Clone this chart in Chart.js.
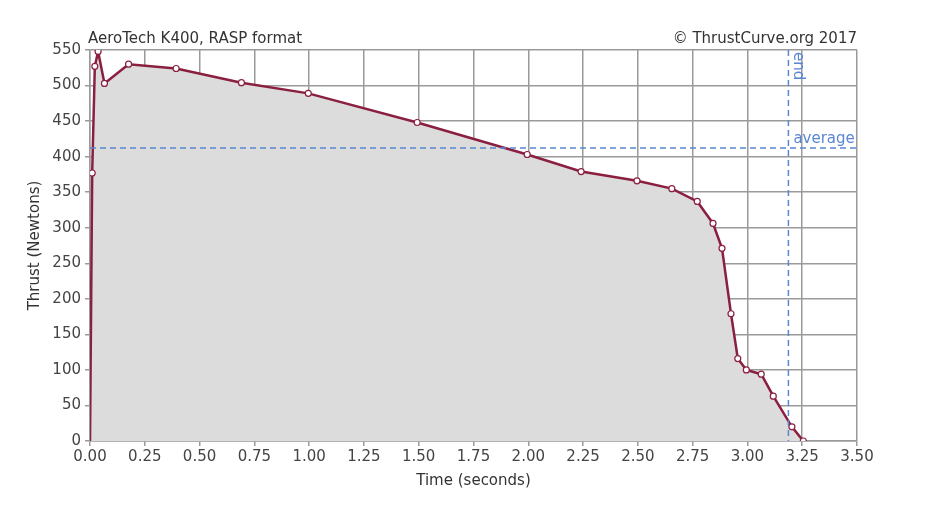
<!DOCTYPE html>
<html>
<head>
<meta charset="utf-8">
<script src="https://cdn.jsdelivr.net/npm/chart.js@4"></script>
<style>
  html, body { margin: 0; padding: 0; background: #fff; }
  #wrap { width: 930px; height: 512px; }
</style>
</head>
<body>
<div id="wrap"><canvas id="thrustChart" width="930" height="512"></canvas></div>
<script>
// ---- data ----
const timeSec = [0, 0.01, 0.022, 0.037, 0.066, 0.176, 0.393, 0.691, 0.996, 1.493, 1.995, 2.241, 2.496, 2.655, 2.771, 2.843, 2.884, 2.925, 2.956, 2.995, 3.063, 3.118, 3.203, 3.255];
const thrustN = [0, 377, 527, 548, 503, 530, 524, 504, 489, 448, 403, 379, 366, 355, 337, 306, 271, 179, 116, 100, 94, 63, 20, 0];
const averageThrust = 412;
const burnEnd = 3.187;
const xTicks = [0, 0.25, 0.5, 0.75, 1, 1.25, 1.5, 1.75, 2, 2.25, 2.5, 2.75, 3, 3.25, 3.5];
const yTicks = [0, 50, 100, 150, 200, 250, 300, 350, 400, 450, 500, 550];
const chartTitle = "AeroTech K400, RASP format";
const chartCredit = "\u00A9 ThrustCurve.org 2017";

const FONT = "'DejaVu Sans', sans-serif";
const BLUE = "#5a86d4";

// average / end reference lines + header texts
const refLines = {
    id: "refLines",
    afterDatasetsDraw(chart) {
        const { ctx, chartArea: a, scales } = chart;
        const yAvg = scales.y.getPixelForValue(averageThrust);
        const xEnd = scales.x.getPixelForValue(burnEnd);
        ctx.save();
        ctx.strokeStyle = BLUE;
        ctx.lineWidth = 1.5;
        ctx.setLineDash([6, 4]);
        ctx.beginPath();
        ctx.moveTo(a.left, yAvg);
        ctx.lineTo(a.right, yAvg);
        ctx.moveTo(xEnd, a.top);
        ctx.lineTo(xEnd, a.bottom);
        ctx.stroke();
        ctx.setLineDash([]);
        ctx.fillStyle = BLUE;
        ctx.font = "15px " + FONT;
        ctx.textAlign = "left";
        ctx.textBaseline = "bottom";
        ctx.fillText("average", xEnd + 5, yAvg - 1);
        ctx.translate(xEnd + 2, a.top + 2);
        ctx.rotate(Math.PI / 2);
        ctx.textBaseline = "bottom";
        ctx.fillText("end", 0, 0);
        ctx.restore();
    },
    afterDraw(chart) {
        const { ctx, chartArea: a } = chart;
        ctx.save();
        ctx.fillStyle = "#333";
        ctx.font = "15px " + FONT;
        ctx.textBaseline = "bottom";
        ctx.textAlign = "left";
        ctx.fillText(chartTitle, a.left - 2, a.top - 3);
        ctx.textAlign = "right";
        ctx.fillText(chartCredit, a.right, a.top - 3);
        ctx.restore();
    }
};

const pointSizes = thrustN.map((v, i) => (i === 0 ? 0 : 3));

new Chart(document.getElementById("thrustChart"), {
    type: "scatter",
    data: {
        datasets: [{
            data: timeSec.map((t, i) => ({ x: t, y: thrustN[i] })),
            showLine: true,
            borderColor: "#8a1f3f",
            borderWidth: 2.5,
            backgroundColor: "#dcdcdc",
            fill: "origin",
            pointRadius: pointSizes,
            pointBackgroundColor: "#ffffff",
            pointBorderColor: "#8a1f3f",
            pointBorderWidth: 1.2,
            tension: 0
        }]
    },
    options: {
        responsive: false,
        animation: false,
        layout: { padding: { top: 50, right: 73, left: 0, bottom: 0 } },
        plugins: {
            legend: { display: false },
            tooltip: { enabled: false }
        },
        scales: {
            x: {
                type: "linear",
                min: 0,
                max: 3.5,
                afterBuildTicks: (s) => { s.ticks = xTicks.map((v) => ({ value: v })); },
                afterFit: (s) => { s.height = 71; },
                grid: { color: "#9a9a9a", lineWidth: 1.5, tickLength: 5 },
                border: { color: "#9a9a9a", width: 1.5 },
                ticks: {
                    color: "#444",
                    font: { family: FONT, size: 15 },
                    padding: 2,
                    maxRotation: 0,
                    callback: (v) => Number(v).toFixed(2)
                },
                title: {
                    display: true,
                    text: "Time (seconds)",
                    color: "#333",
                    font: { family: FONT, size: 15 },
                    padding: { top: 0, bottom: 22 }
                }
            },
            y: {
                min: 0,
                max: 550,
                afterBuildTicks: (s) => { s.ticks = yTicks.map((v) => ({ value: v })); },
                afterFit: (s) => { s.width = 90; },
                grid: { color: "#9a9a9a", lineWidth: 1.5, tickLength: 5 },
                border: { color: "#9a9a9a", width: 1.5 },
                ticks: {
                    color: "#444",
                    font: { family: FONT, size: 15 },
                    padding: 4
                },
                title: {
                    display: true,
                    text: "Thrust (Newtons)",
                    color: "#333",
                    font: { family: FONT, size: 15 },
                    padding: { top: 26, bottom: 0 }
                }
            }
        }
    },
    plugins: [refLines]
});
</script>
</body>
</html>
